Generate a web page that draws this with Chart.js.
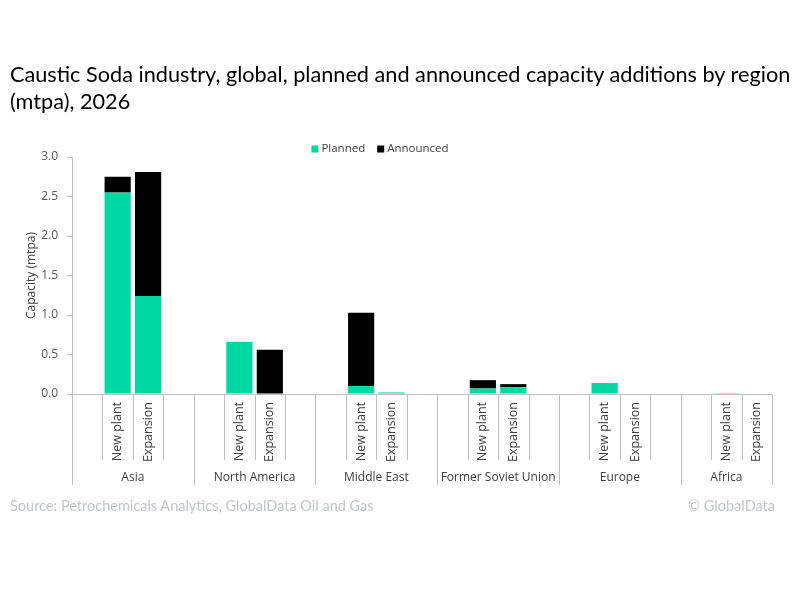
<!DOCTYPE html>
<html><head><meta charset="utf-8">
<script src="https://cdn.jsdelivr.net/npm/chart.js@4.4.1/dist/chart.umd.min.js"></script>
<style>
html,body{margin:0;padding:0;background:#fff;}
#wrap{position:relative;width:800px;height:600px;overflow:hidden;background:#fff;}
#title{position:absolute;left:10px;top:61px;font-family:Lato,'Open Sans',sans-serif;font-size:21.7px;line-height:27px;color:#000;white-space:nowrap;}
.foot{position:absolute;top:497px;font-family:Lato,'Open Sans',sans-serif;font-size:14.5px;color:#c3c6ca;white-space:nowrap;}
#src{left:10px;}
#cr{right:25px;}
canvas{position:absolute;left:0;top:0;}
</style></head>
<body><div id="wrap">
<canvas id="c" width="800" height="600"></canvas>
<div id="title">Caustic Soda industry, global, planned and announced capacity additions by region<br>(mtpa), 2026</div>
<div class="foot" id="src">Source: Petrochemicals Analytics, GlobalData Oil and Gas</div>
<div class="foot" id="cr">© GlobalData</div>
</div>
<script>
// ---- data ----
const regions = ['Asia', 'North America', 'Middle East', 'Former Soviet Union', 'Europe', 'Africa'];
const subCategories = ['New plant', 'Expansion'];
const plannedNewPlant    = [2.55, 0.66, 0.10, 0.07, 0.14, 0.01];
const plannedExpansion   = [1.24, 0,    0.02, 0.085, 0,   0];
const announcedNewPlant  = [0.20, 0,    0.93, 0.105, 0,   0];
const announcedExpansion = [1.57, 0.56, 0,    0.04, 0,    0];
const yTicks = [0, 0.5, 1.0, 1.5, 2.0, 2.5, 3.0];
const seriesNames = ['Planned', 'Announced'];
const seriesColors = ['#00D7A2', '#000000'];

// ---- build category slots: blank, New plant, Expansion, blank (last region without trailing blank) ----
const labels = [], slotRegion = [], planned = [], announced = [];
regions.forEach((r, ri) => {
  const slots = ['', subCategories[0], subCategories[1]];
  if (ri < regions.length - 1) slots.push('');
  slots.forEach(s => {
    labels.push(s);
    slotRegion.push(ri);
    const nz = v => (v ? v : null);
    if (s === subCategories[0]) { planned.push(nz(plannedNewPlant[ri])); announced.push(nz(announcedNewPlant[ri])); }
    else if (s === subCategories[1]) { planned.push(nz(plannedExpansion[ri])); announced.push(nz(announcedExpansion[ri])); }
    else { planned.push(null); announced.push(null); }
  });
});

const SMALL = "'Open Sans', sans-serif";
const lineCol = '#bfbfbf';

const groupAxisPlugin = {
  id: 'groupAxis',
  afterDraw(chart) {
    const ctx = chart.ctx, xs = chart.scales.x;
    const n = labels.length;
    const w = (xs.right - xs.left) / n;
    const y0 = xs.top;
    ctx.save();
    ctx.strokeStyle = lineCol; ctx.lineWidth = 1;
    for (let i = 0; i <= n; i++) {
      const x = Math.round(xs.getPixelForValue(Math.min(i, n - 1)) + (i === n ? w / 2 : -w / 2)) + 0.5;
      const isRegion = i === 0 || i === n || slotRegion[i] !== slotRegion[i - 1];
      ctx.beginPath(); ctx.moveTo(x, y0); ctx.lineTo(x, y0 + (isRegion ? 91 : 66)); ctx.stroke();
    }
    ctx.fillStyle = '#404040';
    ctx.font = "12px " + SMALL;
    ctx.textAlign = 'center'; ctx.textBaseline = 'middle';
    regions.forEach((r, ri) => {
      const idx = slotRegion.map((v, i) => v === ri ? i : -1).filter(i => i >= 0);
      const a = xs.getPixelForValue(idx[0]) - w / 2, b = xs.getPixelForValue(idx[idx.length - 1]) + w / 2;
      ctx.fillText(r, (a + b) / 2, y0 + 84);
    });
    // legend
    ctx.font = "11.5px " + SMALL;
    ctx.textAlign = 'left';
    const box = 7, gapBox = 3, gapItem = 12;
    const widths = seriesNames.map(s => ctx.measureText(s).width);
    const total = widths.reduce((a, b) => a + b, 0) + seriesNames.length * (box + gapBox) + gapItem * (seriesNames.length - 1);
    let x = 380 - total / 2;
    const ly = 149;
    seriesNames.forEach((s, i) => {
      ctx.fillStyle = seriesColors[i];
      ctx.fillRect(x, ly - box / 2, box, box);
      x += box + gapBox;
      ctx.fillStyle = '#404040';
      ctx.fillText(s, x, ly);
      x += widths[i] + gapItem;
    });
    ctx.restore();
  }
};

new Chart(document.getElementById('c'), {
  type: 'bar',
  data: {
    labels: labels,
    datasets: [
      { label: seriesNames[0], data: planned, backgroundColor: seriesColors[0], barPercentage: 0.86, categoryPercentage: 1.0 },
      { label: seriesNames[1], data: announced, backgroundColor: seriesColors[1], barPercentage: 0.86, categoryPercentage: 1.0 }
    ]
  },
  options: {
    responsive: false,
    animation: false,
    layout: { padding: { top: 157, left: 0, right: 28, bottom: 0 } },
    plugins: { legend: { display: false }, title: { display: false }, tooltip: { enabled: false } },
    scales: {
      x: {
        stacked: true,
        offset: true,
        grid: { display: false, drawTicks: false },
        border: { display: true, color: lineCol },
        ticks: { autoSkip: false, minRotation: 90, maxRotation: 90, padding: 8, color: '#404040', font: { family: SMALL, size: 12.5 } },
        afterFit: s => { s.height = 206; }
      },
      y: {
        stacked: true,
        min: 0, max: 3,
        afterBuildTicks: s => { s.ticks = yTicks.map(v => ({ value: v })); },
        ticks: { padding: 9, color: '#595959', font: { family: SMALL, size: 12 }, callback: v => Number(v).toFixed(1) },
        grid: { drawOnChartArea: false, drawTicks: true, tickLength: 5, color: lineCol },
        border: { display: true, color: lineCol },
        title: { display: true, text: 'Capacity (mtpa)', color: '#404040', font: { family: SMALL, size: 12 }, padding: { top: 24, bottom: 0 } },
        afterFit: s => { s.width = 72; }
      }
    }
  },
  plugins: [groupAxisPlugin]
});
</script>
</body></html>
